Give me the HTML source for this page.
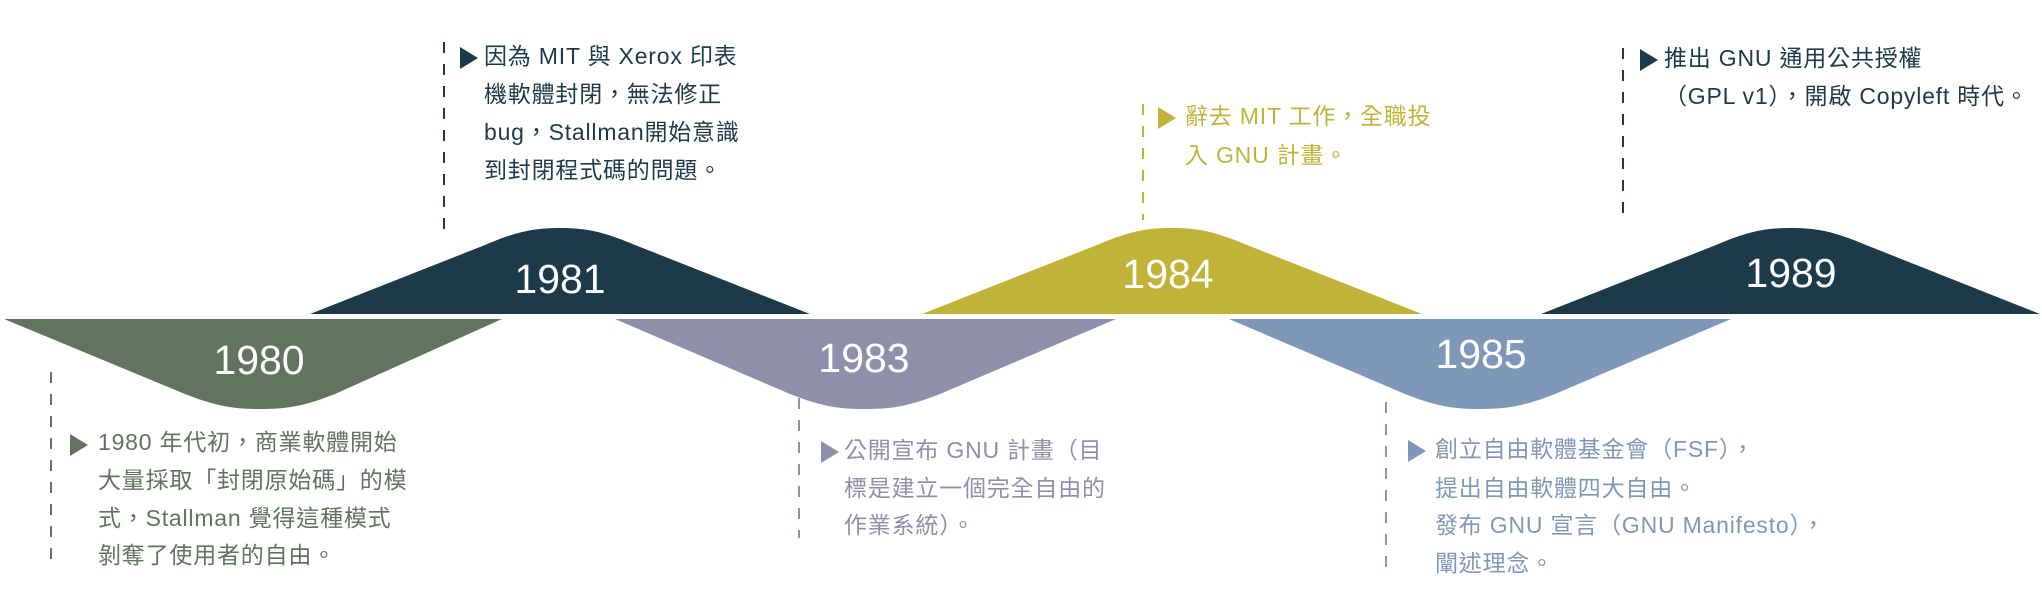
<!DOCTYPE html>
<html><head><meta charset="utf-8"><style>
html,body{margin:0;padding:0;background:#fff;}
svg{display:block;}
text{font-family:"Liberation Sans","Noto Sans CJK TC",sans-serif;}
.t{font-size:23px;letter-spacing:0.8px;dominant-baseline:middle;}
.y{font-size:41px;fill:#fff;text-anchor:middle;dominant-baseline:middle;}
</style></head><body>
<svg width="2042" height="605" viewBox="0 0 2042 605" xmlns="http://www.w3.org/2000/svg">
<path d="M4,319 L185,394 C218,407 235,409 260,409 C285,409 302,407 335,394 L502,319 Z" fill="#62735f"/>
<path d="M615,319 L790,394 C823,407 840,409 865,409 C890,409 907,407 940,394 L1116,319 Z" fill="#908fab"/>
<path d="M1229,319 L1405,394 C1438,407 1455,409 1480,409 C1505,409 1522,407 1555,394 L1731,319 Z" fill="#7f98b8"/>
<path d="M310,314 L485,245 C518,231 535,228 560,228 C585,228 602,231 635,245 L810,314 Z" fill="#1c3a4a"/>
<path d="M922,314 L1097,245 C1130,231 1147,228 1172,228 C1197,228 1214,231 1247,245 L1422,314 Z" fill="#c0b338"/>
<path d="M1541,314 L1716,245 C1749,231 1766,228 1791,228 C1816,228 1833,231 1866,245 L2040,314 Z" fill="#1c3a4a"/>
<text class="y" x="259" y="363">1980</text>
<text class="y" x="560" y="282">1981</text>
<text class="y" x="864" y="361">1983</text>
<text class="y" x="1168" y="277">1984</text>
<text class="y" x="1481" y="357">1985</text>
<text class="y" x="1791" y="276">1989</text>
<g stroke-width="2" stroke-dasharray="11 11" fill="none">
<line x1="51" y1="372" x2="51" y2="566" stroke="#62735f"/>
<line x1="444" y1="42" x2="444" y2="236" stroke="#1c3a4a"/>
<line x1="799" y1="398" x2="799" y2="538" stroke="#908fab"/>
<line x1="1143" y1="104" x2="1143" y2="220" stroke="#c0b338"/>
<line x1="1386" y1="402" x2="1386" y2="568" stroke="#7f98b8"/>
<line x1="1623" y1="48" x2="1623" y2="220" stroke="#1c3a4a"/>
</g>
<polygon points="70,434 70,456 88,445" fill="#62735f"/>
<polygon points="460,47 460,69 478,58" fill="#1c3a4a"/>
<polygon points="821,441 821,463 839,452" fill="#908fab"/>
<polygon points="1158,107 1158,129 1176,118" fill="#c0b338"/>
<polygon points="1408,440 1408,462 1426,451" fill="#7f98b8"/>
<polygon points="1640,49 1640,71 1658,60" fill="#1c3a4a"/>
<g fill="#62735f">
<text class="t" x="98" y="444">1980 年代初，商業軟體開始</text>
<text class="t" x="98" y="482">大量採取「封閉原始碼」的模</text>
<text class="t" x="98" y="520">式，Stallman 覺得這種模式</text>
<text class="t" x="98" y="557">剝奪了使用者的自由。</text>
</g>
<g fill="#1c3a4a">
<text class="t" x="484" y="58">因為 MIT 與 Xerox 印表</text>
<text class="t" x="484" y="96">機軟體封閉，無法修正</text>
<text class="t" x="484" y="134">bug，Stallman開始意識</text>
<text class="t" x="484" y="172">到封閉程式碼的問題。</text>
</g>
<g fill="#908fab">
<text class="t" x="844" y="452">公開宣布 GNU 計畫（目</text>
<text class="t" x="844" y="490">標是建立一個完全自由的</text>
<text class="t" x="844" y="527">作業系統）。</text>
</g>
<g fill="#c0b338">
<text class="t" x="1185" y="118">辭去 MIT 工作，全職投</text>
<text class="t" x="1185" y="157">入 GNU 計畫。</text>
</g>
<g fill="#7f98b8">
<text class="t" x="1435" y="451">創立自由軟體基金會（FSF），</text>
<text class="t" x="1435" y="490">提出自由軟體四大自由。</text>
<text class="t" x="1435" y="527">發布 GNU 宣言（GNU Manifesto），</text>
<text class="t" x="1435" y="565">闡述理念。</text>
</g>
<g fill="#1c3a4a">
<text class="t" x="1664" y="60">推出 GNU 通用公共授權</text>
<text class="t" x="1664" y="98">（GPL v1），開啟 Copyleft 時代。</text>
</g>
</svg>
</body></html>
